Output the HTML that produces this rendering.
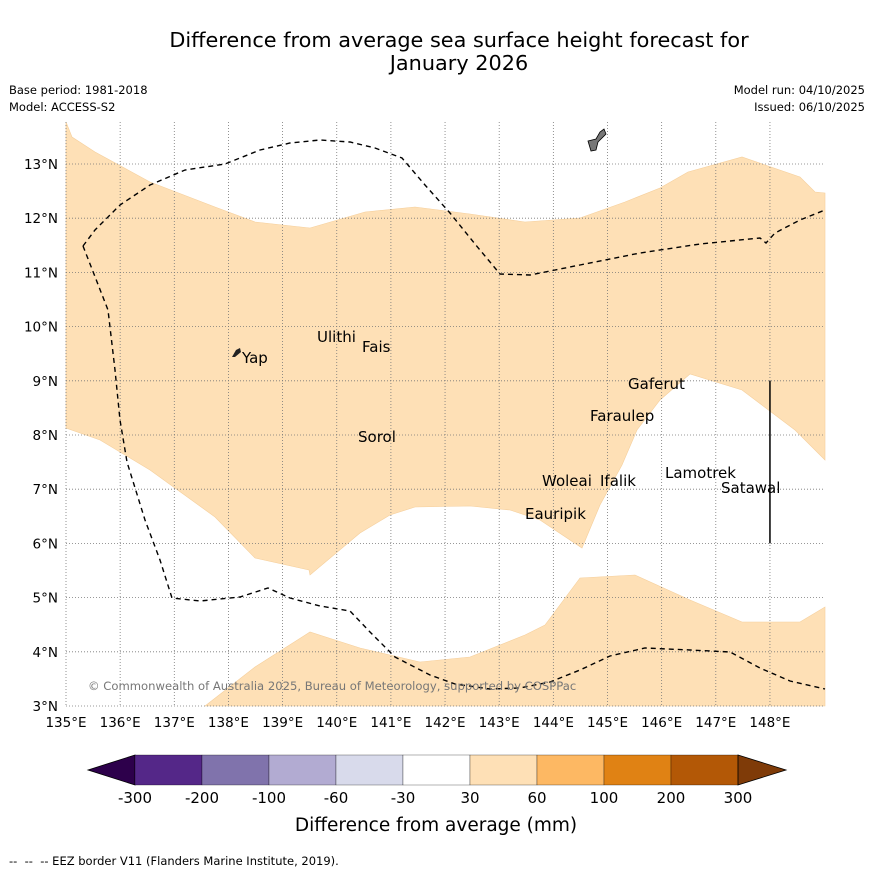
<!DOCTYPE html>
<html><head><meta charset="utf-8"><style>
body{margin:0;background:#fff;width:873px;height:873px;overflow:hidden;font-family:"Liberation Sans","DejaVu Sans",sans-serif}
svg text{font-family:"DejaVu Sans","Liberation Sans",sans-serif;white-space:pre}
</style></head><body>
<svg id="c" width="873" height="873" xmlns="http://www.w3.org/2000/svg"></svg>
<script>
const lonTicks=[135,136,137,138,139,140,141,142,143,144,145,146,147,148];
const latTicks=[3,4,5,6,7,8,9,10,11,12,13];
const cbLabels=["-300","-200","-100","-60","-30","30","60","100","200","300"];
const cbColors=["#542788","#8073ac","#b2abd2","#d8daeb","#ffffff","#fee0b6","#fdb863","#e08214","#b35806"];
const upperPx=[[66,122],[72,137],[95,152],[150,182],[215,207],[255,222],[310,228],[365,212],[415,207],[470,214],[525,222],[580,218],[625,202],[660,188],[688,172],[742,157],[800,177],[815,192],[825,193],[825,460],[795,430],[742,390],[690,374],[660,400],[637,430],[622,465],[600,505],[582,548],[540,520],[510,510],[470,506],[415,507],[390,515],[360,533],[310,575],[309,570],[255,558],[215,517],[150,470],[100,440],[66,428]];
const lowerPx=[[205,706],[255,667],[310,632],[360,648],[420,662],[470,657],[525,635],[545,625],[580,578],[635,575],[690,600],[742,622],[800,622],[825,607],[825,706]];
const eezA=[[83,246],[95,230],[120,205],[150,185],[185,170],[225,164],[260,150],[290,143],[320,140],[350,142],[375,148],[402,158],[425,185],[450,213],[475,244],[500,274],[530,275],[580,265],[640,253],[700,244],[760,238],[766,243],[775,233],[800,220],[825,210]];
const eezB=[[83,246],[108,310],[115,370],[120,420],[127,462],[145,520],[160,560],[172,598],[200,601],[240,597],[268,588],[290,598],[320,606],[350,611],[370,632],[395,657],[430,675],[455,684],[490,689],[520,688],[550,682],[580,670],[610,656],[645,648],[690,650],[730,652],[760,668],[790,681],[825,689]];
const islands=[["Ulithi",317,336],["Fais",362,346],["Yap",242,357],["Gaferut",628,383],["Faraulep",590,415],["Sorol",358,436],["Woleai",542,480],["Ifalik",600,480],["Lamotrek",665,472],["Satawal",721,487],["Eauripik",525,513]];
const X0=66,X1=825,Y0=122,Y1=706,PX=54.15,PY=54.2;
const x=lon=>X0+(lon-135)*PX, y=lat=>Y1-(lat-3)*PY;
const toLL=p=>[135+(p[0]-X0)/PX,3+(Y1-p[1])/PY];
const svg=document.getElementById('c');const NS="http://www.w3.org/2000/svg";
function mk(t,a,txt){const e=document.createElementNS(NS,t);for(const k in a)e.setAttribute(k,a[k]);if(txt!=null)e.textContent=txt;svg.appendChild(e);return e;}
function pts(arr){return arr.map(toLL).map(q=>x(q[0]).toFixed(1)+","+y(q[1]).toFixed(1)).join(" ");}
let e;
e=mk('text',{x:459,y:47,'text-anchor':'middle','font-size':20.8},'Difference from average sea surface height forecast for');

e=mk('text',{x:459,y:70,'text-anchor':'middle','font-size':20.8},'January 2026');

[["Base period: 1981-2018",9,94,"start","base-period"],["Model: ACCESS-S2",9,111,"start","model-name"],["Model run: 04/10/2025",865,94,"end","model-run"],["Issued: 06/10/2025",865,111,"end","issued-date"]].forEach(d=>{
 e=mk('text',{x:d[1],y:d[2],'text-anchor':d[3],'font-size':11.5},d[0]);
 });
e=mk('polygon',{points:pts(upperPx),fill:'#fee0b6',stroke:'#f5cf9c','stroke-width':0.6});

e=mk('polygon',{points:pts(lowerPx),fill:'#fee0b6',stroke:'#f5cf9c','stroke-width':0.6});

lonTicks.forEach(l=>{e=mk('line',{x1:x(l),x2:x(l),y1:Y0,y2:Y1,stroke:'#777','stroke-width':0.8,'stroke-dasharray':'1,2'});
 
 e=mk('text',{x:x(l),y:727,'text-anchor':'middle','font-size':13.5},l+'°E');
 });
latTicks.forEach(l=>{e=mk('line',{x1:X0,x2:X1,y1:y(l),y2:y(l),stroke:'#777','stroke-width':0.8,'stroke-dasharray':'1,2'});
 
 e=mk('text',{x:58,y:y(l)+5,'text-anchor':'end','font-size':13.5},l+'°N');
 });
[eezA,eezB].forEach(a=>{e=mk('polyline',{points:pts(a),fill:'none',stroke:'#000','stroke-width':1.4,'stroke-dasharray':'5,4'});
 });
e=mk('line',{x1:x(148),x2:x(148),y1:y(9),y2:y(6),stroke:'#000','stroke-width':1.5});

e=mk('path',{d:'M588,141 L596,139 L600,132 L604,129 L606,134 L598,142 L596,150 L591,151 Z',fill:'#777',stroke:'#000','stroke-width':0.8});

e=mk('path',{d:'M232,357 L236,350 L240,348 L241,352 L235,357 Z',fill:'#222'});

islands.forEach(d=>{e=mk('text',{x:d[1],y:d[2]+6,'font-size':15},d[0]);
 });
e=mk('text',{x:88,y:690,'font-size':11.6,fill:'#777'},'© Commonwealth of Australia 2025, Bureau of Meteorology, supported by COSPPac');

const cbX=135,cbW=67,cbY=755,cbH=30;
e=mk('polygon',{points:`88,770 ${cbX},${cbY} ${cbX},${cbY+cbH}`,fill:'#2d004b',stroke:'#000','stroke-width':0.8});

cbColors.forEach((c,i)=>{e=mk('rect',{x:cbX+i*cbW,y:cbY,width:cbW,height:cbH,fill:c,stroke:'#000','stroke-width':0.3});
 });
const cbEnd=cbX+cbColors.length*cbW;
e=mk('polygon',{points:`${cbEnd},${cbY} 786,770 ${cbEnd},${cbY+cbH}`,fill:'#7f3b08',stroke:'#000','stroke-width':0.8});

cbLabels.forEach((t,i)=>{e=mk('text',{x:cbX+i*cbW,y:803,'text-anchor':'middle','font-size':15},t);
 });
e=mk('text',{x:436,y:831,'text-anchor':'middle','font-size':18.5},'Difference from average (mm)');

e=mk('text',{x:9,y:865,'font-size':11.5},'--  --  -- EEZ border V11 (Flanders Marine Institute, 2019).');

</script>
</body></html>
